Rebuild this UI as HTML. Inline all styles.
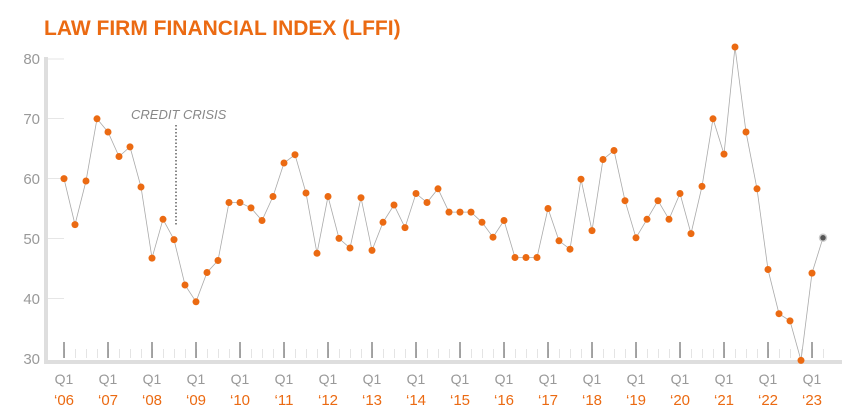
<!DOCTYPE html>
<html><head><meta charset="utf-8"><style>
html,body{margin:0;padding:0;background:#fff;}
svg{display:block;font-family:"Liberation Sans",sans-serif;}
</style></head><body>
<svg width="852" height="420" viewBox="0 0 852 420">
<defs>
<pattern id="mt" x="64" y="0" width="11" height="420" patternUnits="userSpaceOnUse">
<rect x="0" y="349" width="1" height="9" fill="#e4e4e4"/>
</pattern>
</defs>
<text x="44" y="35" fill="#eb6a12" font-size="21" font-weight="bold">LAW FIRM FINANCIAL INDEX (LFFI)</text>
<!-- axes -->
<rect x="44" y="57" width="4" height="307" fill="#dedede"/>
<rect x="44" y="360" width="798" height="4" fill="#dedede"/>
<g stroke="#e6e6e6" stroke-width="1">
<line x1="48" y1="59" x2="64" y2="59"/><line x1="48" y1="118.5" x2="64" y2="118.5"/>
<line x1="48" y1="178.5" x2="64" y2="178.5"/><line x1="48" y1="238.5" x2="64" y2="238.5"/>
<line x1="48" y1="298.5" x2="64" y2="298.5"/>
</g>
<g fill="#999" font-size="15" text-anchor="end">
<text x="40" y="64">80</text><text x="40" y="124">70</text><text x="40" y="184">60</text>
<text x="40" y="244">50</text><text x="40" y="304">40</text><text x="40" y="364">30</text>
</g>
<rect x="64" y="340" width="770" height="20" fill="url(#mt)"/>
<g stroke="#888" stroke-width="1.5">
<line x1="64" y1="342" x2="64" y2="358"/><line x1="108" y1="342" x2="108" y2="358"/>
<line x1="152" y1="342" x2="152" y2="358"/><line x1="196" y1="342" x2="196" y2="358"/>
<line x1="240" y1="342" x2="240" y2="358"/><line x1="284" y1="342" x2="284" y2="358"/>
<line x1="328" y1="342" x2="328" y2="358"/><line x1="372" y1="342" x2="372" y2="358"/>
<line x1="416" y1="342" x2="416" y2="358"/><line x1="460" y1="342" x2="460" y2="358"/>
<line x1="504" y1="342" x2="504" y2="358"/><line x1="548" y1="342" x2="548" y2="358"/>
<line x1="592" y1="342" x2="592" y2="358"/><line x1="636" y1="342" x2="636" y2="358"/>
<line x1="680" y1="342" x2="680" y2="358"/><line x1="724" y1="342" x2="724" y2="358"/>
<line x1="768" y1="342" x2="768" y2="358"/><line x1="812" y1="342" x2="812" y2="358"/>
</g>
<g fill="#999" font-size="14" text-anchor="middle">
<text x="64" y="384">Q1</text><text x="108" y="384">Q1</text><text x="152" y="384">Q1</text>
<text x="196" y="384">Q1</text><text x="240" y="384">Q1</text><text x="284" y="384">Q1</text>
<text x="328" y="384">Q1</text><text x="372" y="384">Q1</text><text x="416" y="384">Q1</text>
<text x="460" y="384">Q1</text><text x="504" y="384">Q1</text><text x="548" y="384">Q1</text>
<text x="592" y="384">Q1</text><text x="636" y="384">Q1</text><text x="680" y="384">Q1</text>
<text x="724" y="384">Q1</text><text x="768" y="384">Q1</text><text x="812" y="384">Q1</text>
</g>
<g fill="#eb6a12" font-size="15" text-anchor="middle">
<text x="64" y="405">‘06</text><text x="108" y="405">‘07</text><text x="152" y="405">‘08</text>
<text x="196" y="405">‘09</text><text x="240" y="405">‘10</text><text x="284" y="405">‘11</text>
<text x="328" y="405">‘12</text><text x="372" y="405">‘13</text><text x="416" y="405">‘14</text>
<text x="460" y="405">‘15</text><text x="504" y="405">‘16</text><text x="548" y="405">‘17</text>
<text x="592" y="405">‘18</text><text x="636" y="405">‘19</text><text x="680" y="405">‘20</text>
<text x="724" y="405">‘21</text><text x="768" y="405">‘22</text><text x="812" y="405">‘23</text>
</g>
<text x="131" y="119" fill="#888" font-size="13" font-style="italic">CREDIT CRISIS</text>
<line x1="176" y1="125" x2="176" y2="226" stroke="#888" stroke-width="2" stroke-dasharray="1.5,2"/>
<polyline fill="none" stroke="#aaa" stroke-width="0.8" points="64,178.6 75,224.6 86,181 97,118.8 108,132 119,156.5 130,146.9 141,187 152,258.1 163,219.3 174,239.6 185,285 196,301.8 207,272.5 218,260.5 229,202.5 240,202.5 251,207.9 262,220.5 273,196.5 284,163 295,154.7 306,193 317,253.3 328,196.5 339,238.4 350,248 361,197.7 372,250.4 383,222.3 394,205 405,227.6 416,193.5 427,202.5 438,188.8 449,212.1 460,212.1 471,212.1 482,222.3 493,237.2 504,220.5 515,257.5 526,257.5 537,257.5 548,208.5 559,240.8 570,249.2 581,179.2 592,230.6 603,159.5 614,150.5 625,200.7 636,237.8 647,219.3 658,200.7 669,219.3 680,193.5 691,233.6 702,186.4 713,118.8 724,154.1 735,47 746,132 757,188.8 768,269.5 779,313.7 790,320.9 801,360.4 812,273.1 823,237.8"/>
<g fill="#eb6a12">
<circle cx="64" cy="178.6" r="3.5"/><circle cx="75" cy="224.6" r="3.5"/><circle cx="86" cy="181" r="3.5"/><circle cx="97" cy="118.8" r="3.5"/>
<circle cx="108" cy="132" r="3.5"/><circle cx="119" cy="156.5" r="3.5"/><circle cx="130" cy="146.9" r="3.5"/><circle cx="141" cy="187" r="3.5"/>
<circle cx="152" cy="258.1" r="3.5"/><circle cx="163" cy="219.3" r="3.5"/><circle cx="174" cy="239.6" r="3.5"/><circle cx="185" cy="285" r="3.5"/>
<circle cx="196" cy="301.8" r="3.5"/><circle cx="207" cy="272.5" r="3.5"/><circle cx="218" cy="260.5" r="3.5"/><circle cx="229" cy="202.5" r="3.5"/>
<circle cx="240" cy="202.5" r="3.5"/><circle cx="251" cy="207.9" r="3.5"/><circle cx="262" cy="220.5" r="3.5"/><circle cx="273" cy="196.5" r="3.5"/>
<circle cx="284" cy="163" r="3.5"/><circle cx="295" cy="154.7" r="3.5"/><circle cx="306" cy="193" r="3.5"/><circle cx="317" cy="253.3" r="3.5"/>
<circle cx="328" cy="196.5" r="3.5"/><circle cx="339" cy="238.4" r="3.5"/><circle cx="350" cy="248" r="3.5"/><circle cx="361" cy="197.7" r="3.5"/>
<circle cx="372" cy="250.4" r="3.5"/><circle cx="383" cy="222.3" r="3.5"/><circle cx="394" cy="205" r="3.5"/><circle cx="405" cy="227.6" r="3.5"/>
<circle cx="416" cy="193.5" r="3.5"/><circle cx="427" cy="202.5" r="3.5"/><circle cx="438" cy="188.8" r="3.5"/><circle cx="449" cy="212.1" r="3.5"/>
<circle cx="460" cy="212.1" r="3.5"/><circle cx="471" cy="212.1" r="3.5"/><circle cx="482" cy="222.3" r="3.5"/><circle cx="493" cy="237.2" r="3.5"/>
<circle cx="504" cy="220.5" r="3.5"/><circle cx="515" cy="257.5" r="3.5"/><circle cx="526" cy="257.5" r="3.5"/><circle cx="537" cy="257.5" r="3.5"/>
<circle cx="548" cy="208.5" r="3.5"/><circle cx="559" cy="240.8" r="3.5"/><circle cx="570" cy="249.2" r="3.5"/><circle cx="581" cy="179.2" r="3.5"/>
<circle cx="592" cy="230.6" r="3.5"/><circle cx="603" cy="159.5" r="3.5"/><circle cx="614" cy="150.5" r="3.5"/><circle cx="625" cy="200.7" r="3.5"/>
<circle cx="636" cy="237.8" r="3.5"/><circle cx="647" cy="219.3" r="3.5"/><circle cx="658" cy="200.7" r="3.5"/><circle cx="669" cy="219.3" r="3.5"/>
<circle cx="680" cy="193.5" r="3.5"/><circle cx="691" cy="233.6" r="3.5"/><circle cx="702" cy="186.4" r="3.5"/><circle cx="713" cy="118.8" r="3.5"/>
<circle cx="724" cy="154.1" r="3.5"/><circle cx="735" cy="47" r="3.5"/><circle cx="746" cy="132" r="3.5"/><circle cx="757" cy="188.8" r="3.5"/>
<circle cx="768" cy="269.5" r="3.5"/><circle cx="779" cy="313.7" r="3.5"/><circle cx="790" cy="320.9" r="3.5"/><circle cx="801" cy="360.4" r="3.5"/>
<circle cx="812" cy="273.1" r="3.5"/>
</g>
<circle cx="823" cy="237.8" r="3.5" fill="#555" stroke="#ccc" stroke-width="1.5"/>
</svg>
</body></html>
